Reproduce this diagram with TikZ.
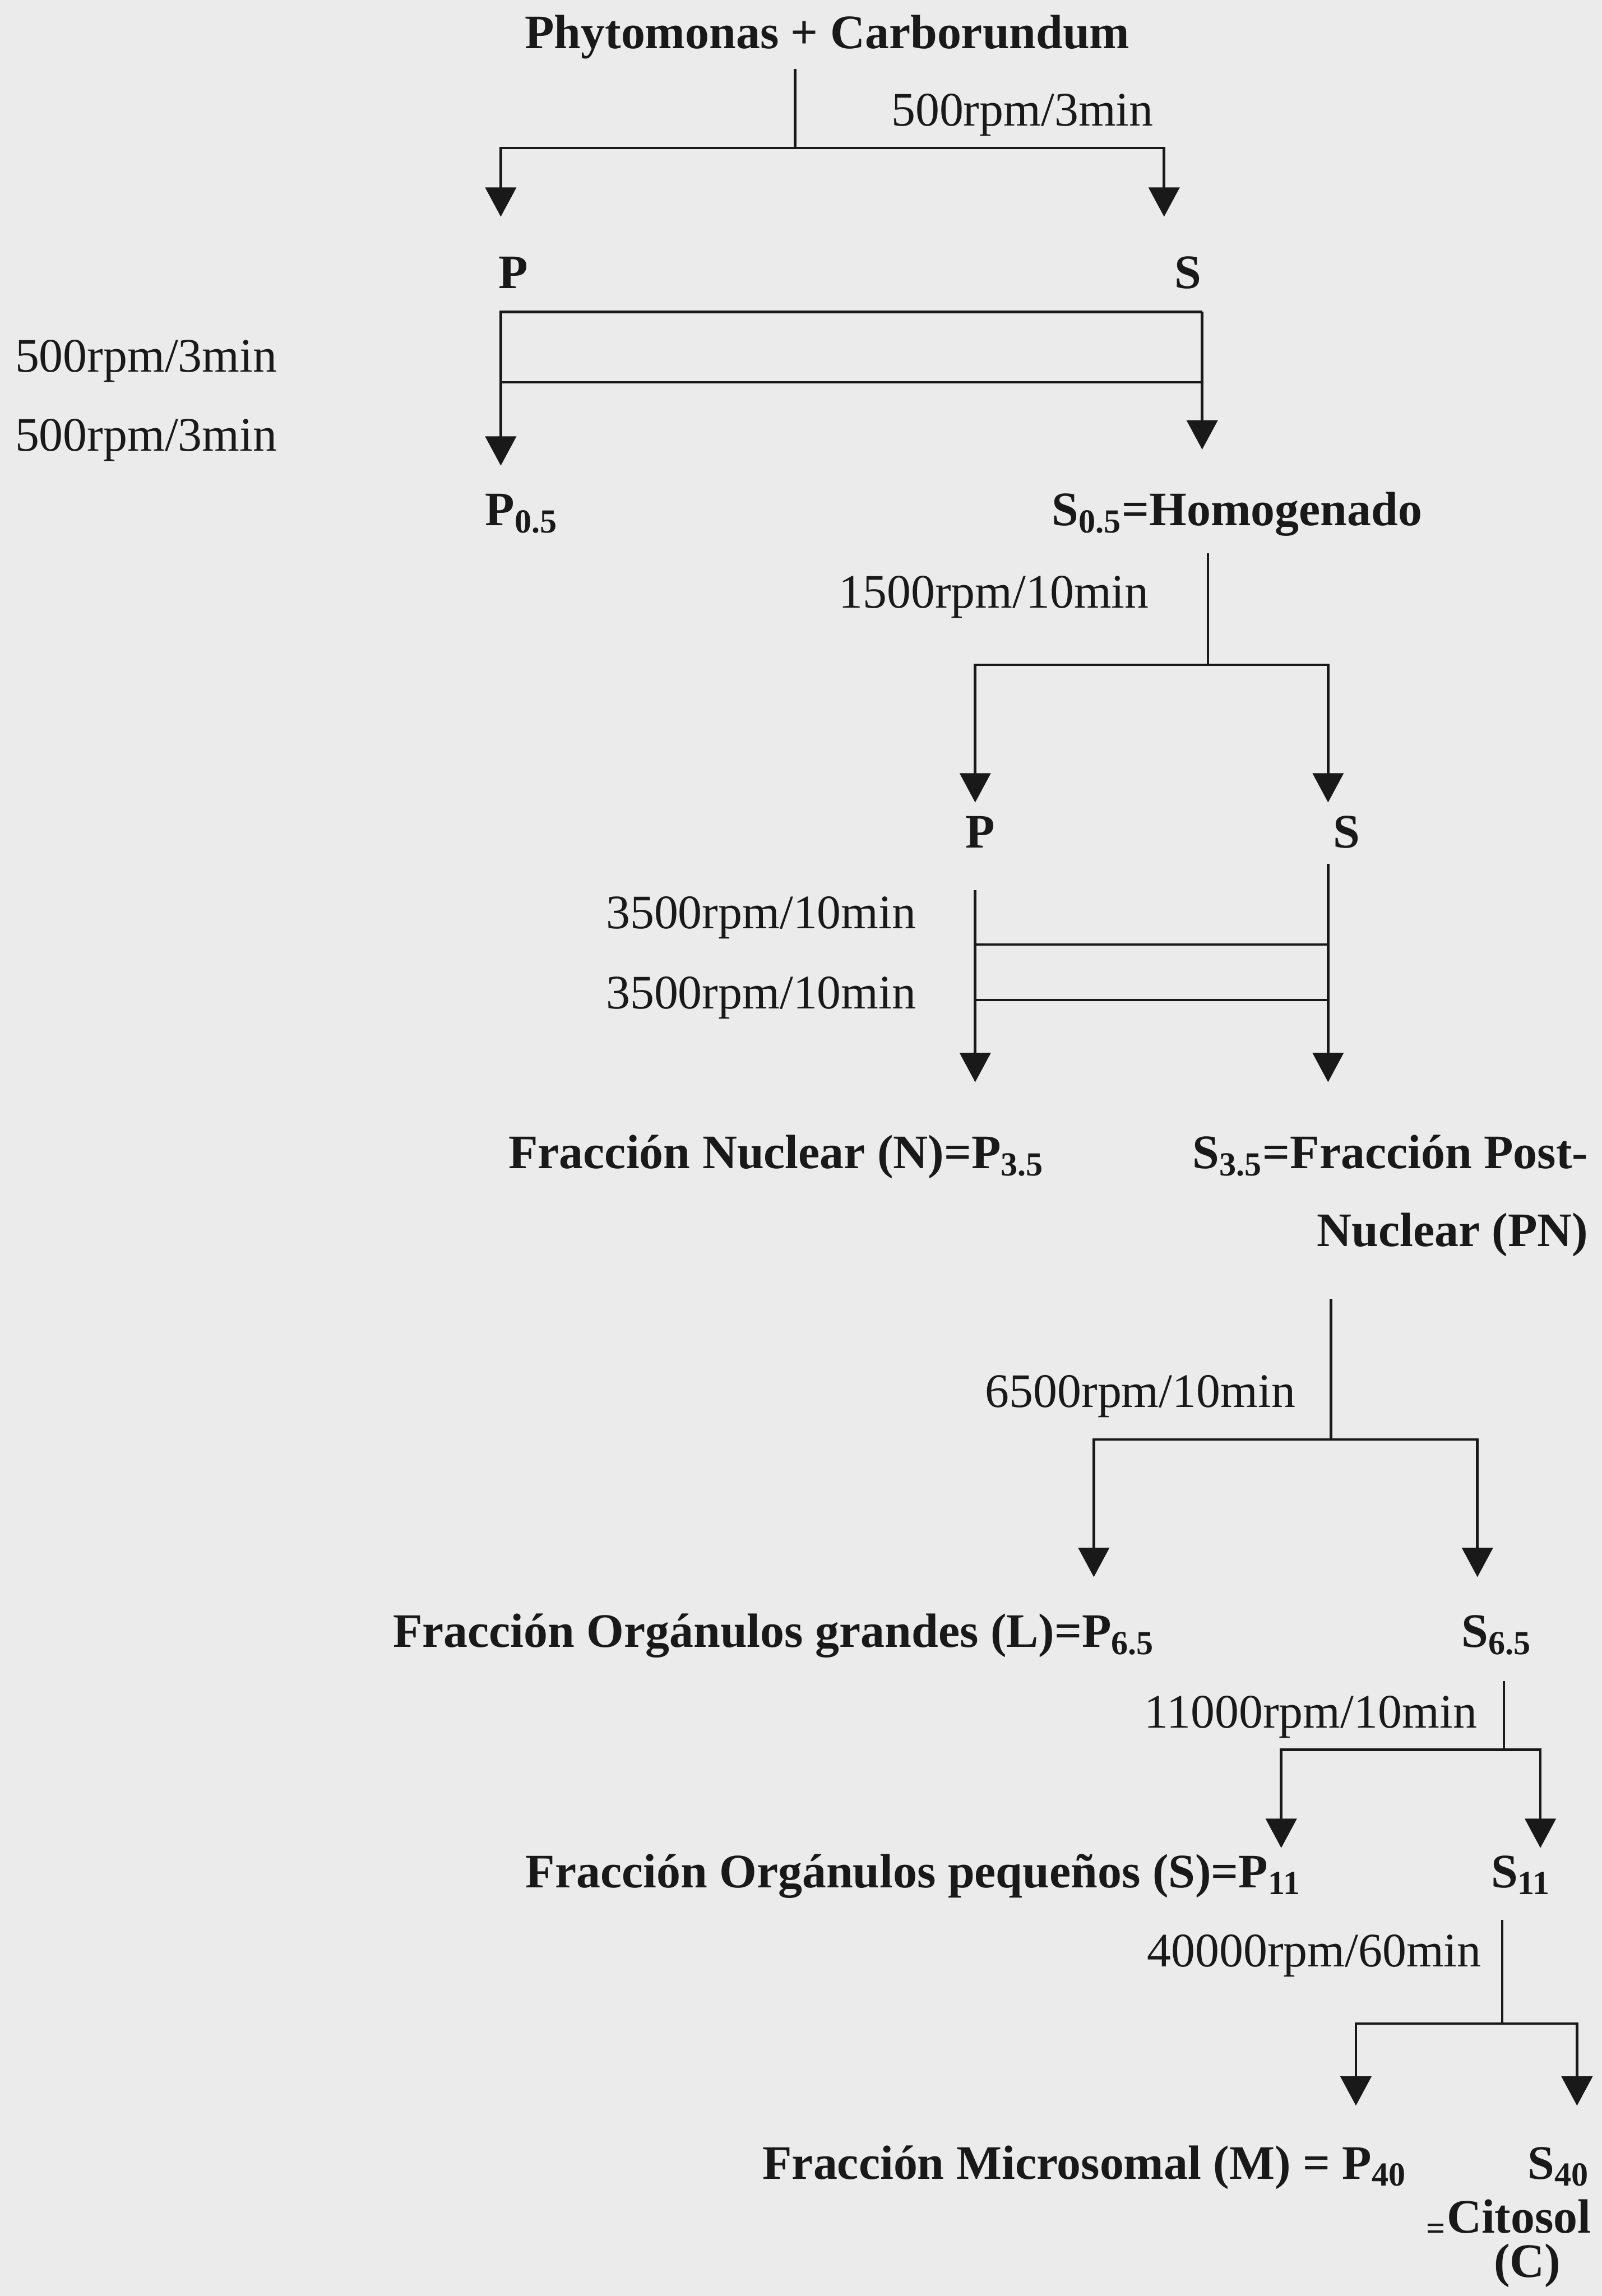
\documentclass[tikz,border=0pt]{standalone}
\usepackage{fontspec}
\setmainfont{Liberation Serif}
\usetikzlibrary{arrows.meta}
\tikzset{
  stage/.style={
    inner sep=0pt, text=black!90,
    font=\fontsize{18.7}{22}\selectfont\bfseries
  },
  speed/.style={
    inner sep=0pt, text=black!90,
    font=\fontsize{18.7}{22}\selectfont
  },
  spin/.style={line width=1pt, draw=black!90},
  spinarr/.style={spin, -{Triangle[length=0.4cm, width=0.42cm]}},
}

\begin{document}
\begin{tikzpicture}[x=0.2mm, y=-0.2mm]
    \fill[black!8] (0,0) rectangle (1094,1568);
    \useasboundingbox (0,0) rectangle (1094,1568);

    % fractions
    \node[stage, anchor=base] (phy) at (565,33) {Phytomonas + Carborundum};
    \node[stage, anchor=base west] (p1) at (340,197) {P};
    \node[stage, anchor=base west] (s1) at (802,197) {S};
    \node[stage, anchor=base west] (p05) at (331,359) {P\textsubscript{0.5}};
    \node[stage, anchor=base west] (s05) at (718,359) {S\textsubscript{0.5}=Homogenado};
    \node[stage, anchor=base west] (p2) at (659,579) {P};
    \node[stage, anchor=base west] (s2) at (910,579) {S};
    \node[stage, anchor=base west] (nuc) at (347,798) {Fracción Nuclear (N)=P\textsubscript{3.5}};
    \node[stage, anchor=base east] (pn) at (1085,798) {S\textsubscript{3.5}=Fracción Post-};
    \node[stage, anchor=base east] (pn2) at (1085,851) {Nuclear (PN)};
    \node[stage, anchor=base east] (lrg) at (789,1125) {Fracción Orgánulos grandes (L)=P\textsubscript{6.5}};
    \node[stage, anchor=base west] (s65) at (998,1125) {S\textsubscript{6.5}};
    \node[stage, anchor=base east] (sml) at (889,1289) {Fracción Orgánulos pequeños (S)=P\textsubscript{11}};
    \node[stage, anchor=base west] (s11) at (1018,1289) {S\textsubscript{11}};
    \node[stage, anchor=base east] (mic) at (961,1488) {Fracción Microsomal (M) = P\textsubscript{40}};
    \node[stage, anchor=base west] (s40) at (1043,1488) {S\textsubscript{40}};
    \node[stage, anchor=base east] (cit) at (1087,1525) {\textsubscript{=}Citosol};
    \node[stage, anchor=base] (cit2) at (1043,1555) {(C)};

    % speeds
    \node[speed, anchor=base east] (v1) at (788,86) {500rpm/3min};
    \node[speed, anchor=base west] (v2a) at (10,254) {500rpm/3min};
    \node[speed, anchor=base west] (v2b) at (10,308) {500rpm/3min};
    \node[speed, anchor=base east] (v3) at (785,415) {1500rpm/10min};
    \node[speed, anchor=base east] (v4a) at (626,634) {3500rpm/10min};
    \node[speed, anchor=base east] (v4b) at (626,689) {3500rpm/10min};
    \node[speed, anchor=base east] (v5) at (885,961) {6500rpm/10min};
    \node[speed, anchor=base east] (v6) at (1009,1180) {11000rpm/10min};
    \node[speed, anchor=base east] (v7) at (1012,1343) {40000rpm/60min};

    % splits: stem top, bar ends, arrow tips
    \coordinate (k1) at (543,47);
    \coordinate (k1-l) at (342,101);  \coordinate (k1-r) at (795,101);
    \coordinate (k1-lt) at (342,148); \coordinate (k1-rt) at (795,148);
    \coordinate (k3) at (825,378);
    \coordinate (k3-l) at (666,454);  \coordinate (k3-r) at (907,454);
    \coordinate (k3-lt) at (666,548); \coordinate (k3-rt) at (907,548);
    \coordinate (k5) at (909,887);
    \coordinate (k5-l) at (747,983);  \coordinate (k5-r) at (1009,983);
    \coordinate (k5-lt) at (747,1077); \coordinate (k5-rt) at (1009,1077);
    \coordinate (k6) at (1027,1148);
    \coordinate (k6-l) at (875,1195);  \coordinate (k6-r) at (1052,1195);
    \coordinate (k6-lt) at (875,1262); \coordinate (k6-rt) at (1052,1262);
    \coordinate (k7) at (1026,1311);
    \coordinate (k7-l) at (926,1382);  \coordinate (k7-r) at (1077,1382);
    \coordinate (k7-lt) at (926,1438); \coordinate (k7-rt) at (1077,1438);

    \foreach \k in {k1, k3, k5, k6, k7} {
      \draw[spinarr] (\k) |- (\k-l) -- (\k-lt);
      \draw[spinarr] (\k) |- (\k-r) -- (\k-rt);
    }

    % washes
    \coordinate (w2-l) at (342,213);  \coordinate (w2-r) at (821,213);
    \coordinate (w2-ml) at (342,261); \coordinate (w2-mr) at (821,261);
    \coordinate (w2-lt) at (342,318); \coordinate (w2-rt) at (821,307);
    \draw[spinarr] (w2-r) -- (w2-l) -- (w2-lt);
    \draw[spinarr] (w2-r) -- (w2-rt);
    \draw[spin] (w2-ml) -- (w2-mr);

    \coordinate (w4-l) at (666,608);  \coordinate (w4-r) at (907,590);
    \coordinate (w4-al) at (666,645); \coordinate (w4-ar) at (907,645);
    \coordinate (w4-bl) at (666,683); \coordinate (w4-br) at (907,683);
    \coordinate (w4-lt) at (666,739); \coordinate (w4-rt) at (907,739);
    \draw[spinarr] (w4-l) -- (w4-lt);
    \draw[spinarr] (w4-r) -- (w4-rt);
    \foreach \a/\b in {w4-al/w4-ar, w4-bl/w4-br}
      \draw[spin] (\a) -- (\b);

\end{tikzpicture}
\end{document}
